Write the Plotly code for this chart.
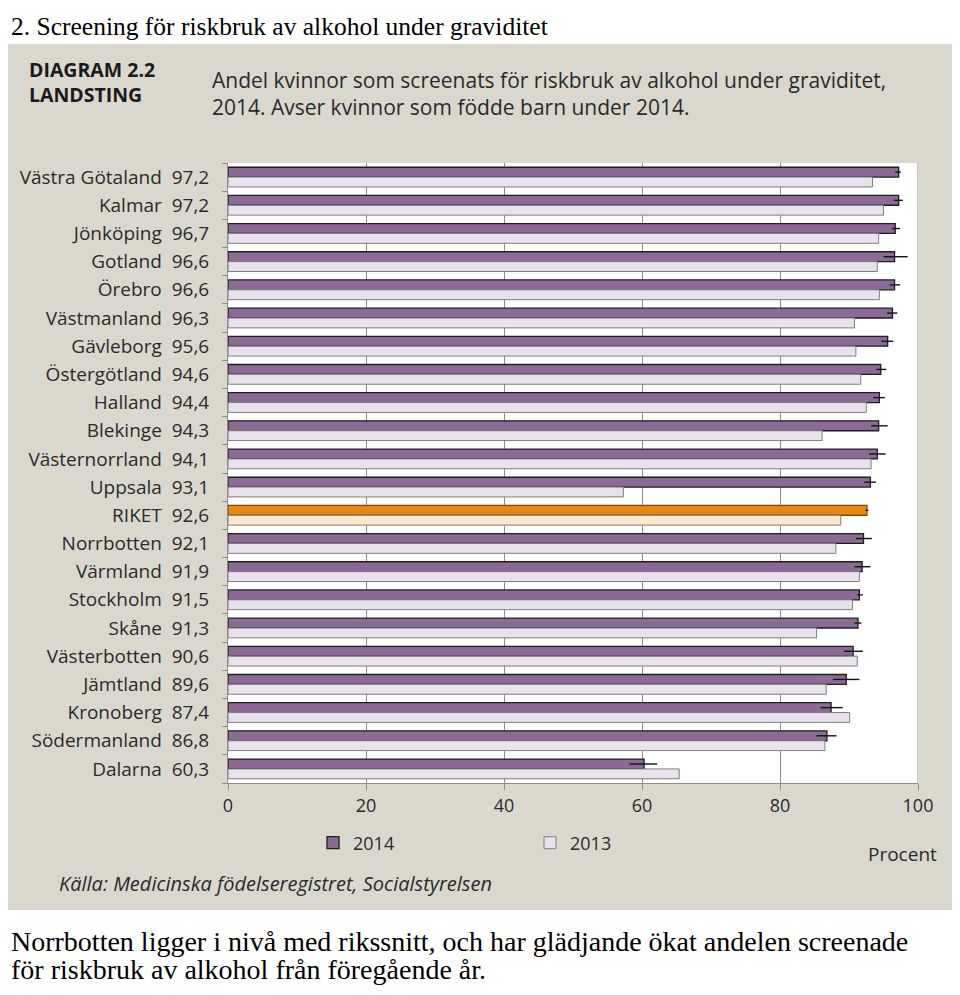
import plotly.graph_objects as go

# ---------------- data ----------------
landsting = ["Västra Götaland", "Kalmar", "Jönköping", "Gotland", "Örebro", "Västmanland",
             "Gävleborg", "Östergötland", "Halland", "Blekinge", "Västernorrland", "Uppsala",
             "RIKET", "Norrbotten", "Värmland", "Stockholm", "Skåne", "Västerbotten",
             "Jämtland", "Kronoberg", "Södermanland", "Dalarna"]
v2014 = [97.2, 97.2, 96.7, 96.6, 96.6, 96.3, 95.6, 94.6, 94.4, 94.3, 94.1, 93.1,
         92.6, 92.1, 91.9, 91.5, 91.3, 90.6, 89.6, 87.4, 86.8, 60.3]
v2013 = [93.4, 95.0, 94.3, 94.1, 94.4, 90.8, 91.0, 91.7, 92.5, 86.1, 93.2, 57.3,
         88.8, 88.1, 91.5, 90.5, 85.3, 91.2, 86.7, 90.1, 86.5, 65.4]
ci_minus = [0.5, 0.7, 0.5, 1.6, 0.7, 0.8, 0.9, 0.6, 0.9, 1.1, 1.2, 0.9,
            0.2, 1.1, 1.1, 0.3, 0.5, 1.3, 1.9, 1.5, 1.5, 2.1]
ci_plus = [0.3, 0.6, 0.7, 1.9, 0.8, 0.7, 0.8, 0.8, 0.8, 1.3, 1.2, 0.8,
           0.2, 1.2, 1.2, 0.5, 0.5, 1.4, 1.9, 1.7, 1.4, 1.9]
x_ticks = [0, 20, 40, 60, 80, 100]

# ---------------- geometry helpers (page pixels; page body has an 8px margin) ----------------
OFF = 8
W, H = 960 - 2 * OFF, 995 - 2 * OFF
L, R, T, B = 228 - OFF, 918 - OFF, 163 - OFF, 783 - OFF
def px2x(px):
    return (px - OFF - L) / (R - L)
def px2y(py):
    return (B - (py - OFF)) / (B - T)

FONT = "Open Sans"
TXT = "#2a2a2a"

purple, lavender = "#8b6b96", "#e9e2ee"
orange, peach = "#e8880e", "#fde7cf"
col14 = [orange if n == "RIKET" else purple for n in landsting]
col13 = [peach if n == "RIKET" else lavender for n in landsting]
line14 = ["#7a4a10" if n == "RIKET" else "#1e1e1e" for n in landsting]

ticktext = [f"{n}\u00a0\u00a0{str(v).replace('.', ',')}" for n, v in zip(landsting, v2014)]

fig = go.Figure()
fig.add_trace(go.Bar(
    name="2014", y=landsting, x=v2014, orientation="h",
    marker=dict(color=col14, line=dict(color=line14, width=1.3)),
    error_x=dict(type="data", symmetric=False, array=ci_plus, arrayminus=ci_minus,
                 color="#111111", thickness=1.4, width=0),
))
fig.add_trace(go.Bar(
    name="2013", y=landsting, x=v2013, orientation="h",
    marker=dict(color=col13, line=dict(color="#7f7f7f", width=1)),
))

beige = "#dad8cd"
shapes = [
    dict(type="rect", xref="paper", yref="paper", layer="below",
         x0=px2x(2), x1=px2x(957), y0=px2y(910), y1=px2y(44),
         fillcolor=beige, line=dict(width=0)),
    dict(type="rect", xref="paper", yref="paper", layer="below",
         x0=0, x1=1, y0=0, y1=1, fillcolor="white", line=dict(width=0)),
    dict(type="line", xref="x", yref="paper", x0=100, x1=100, y0=0, y1=1,
         line=dict(color="#8c8c8c", width=1)),
]

def ann(text, px, py, size, color=TXT, family=FONT, xanchor="left", yanchor="middle"):
    return dict(text=text, x=px2x(px), y=px2y(py), xref="paper", yref="paper",
                xanchor=xanchor, yanchor=yanchor, showarrow=False, align="left",
                font=dict(family=family, size=size, color=color))

annotations = [
    ann("2. Screening för riskbruk av alkohol under graviditet", 9, 26, 25.5,
        color="black", family="Liberation Serif"),
    ann("<b>DIAGRAM 2.2</b><br><b>LANDSTING</b>", 27, 82, 19.5, color="#1a1a1a"),
    ann("Andel kvinnor som screenats för riskbruk av alkohol under graviditet,<br>"
        "2014. Avser kvinnor som födde barn under 2014.", 210, 93, 21),
    ann("Procent", 939, 854, 19, xanchor="right"),
    ann("<i>Källa: Medicinska födelseregistret, Socialstyrelsen</i>", 57, 883, 20),
    ann("Norrbotten ligger i nivå med rikssnitt, och har glädjande ökat andelen screenade",
        9, 942, 28, color="black", family="Liberation Serif"),
    ann("för riskbruk av alkohol från föregående år.", 9, 995 - OFF, 28,
        color="black", family="Liberation Serif", yanchor="bottom"),
]

fig.update_layout(
    width=W, height=H,
    margin=dict(l=L, r=W - R, t=T, b=H - B, pad=0),
    paper_bgcolor="white", plot_bgcolor="white",
    barmode="group", bargap=0.3, bargroupgap=0,
    font=dict(family=FONT, size=18, color=TXT),
    shapes=shapes, annotations=annotations,
    showlegend=True,
    legend=dict(orientation="h", x=px2x(313), y=px2y(843), xanchor="left", yanchor="middle",
                entrywidth=172, entrywidthmode="pixels", bgcolor="rgba(0,0,0,0)",
                font=dict(family=FONT, size=18, color=TXT), traceorder="normal"),
    xaxis=dict(range=[0, 100], tickvals=x_ticks, showgrid=True, gridcolor="#8c8c8c",
               gridwidth=1, zeroline=False, showline=True, linecolor="#8c8c8c",
               ticks="outside", ticklen=6, tickcolor="#8c8c8c",
               tickfont=dict(family=FONT, size=18, color=TXT), fixedrange=True),
    yaxis=dict(autorange="reversed", tickvals=landsting, ticktext=ticktext,
               showline=True, linecolor="#8c8c8c", ticks="outside", ticklen=5,
               tickcolor="#8c8c8c", tickson="boundaries", showgrid=False,
               ticklabelstandoff=14,
               tickfont=dict(family=FONT, size=19, color=TXT), fixedrange=True),
)

fig.write_html("out.html")
